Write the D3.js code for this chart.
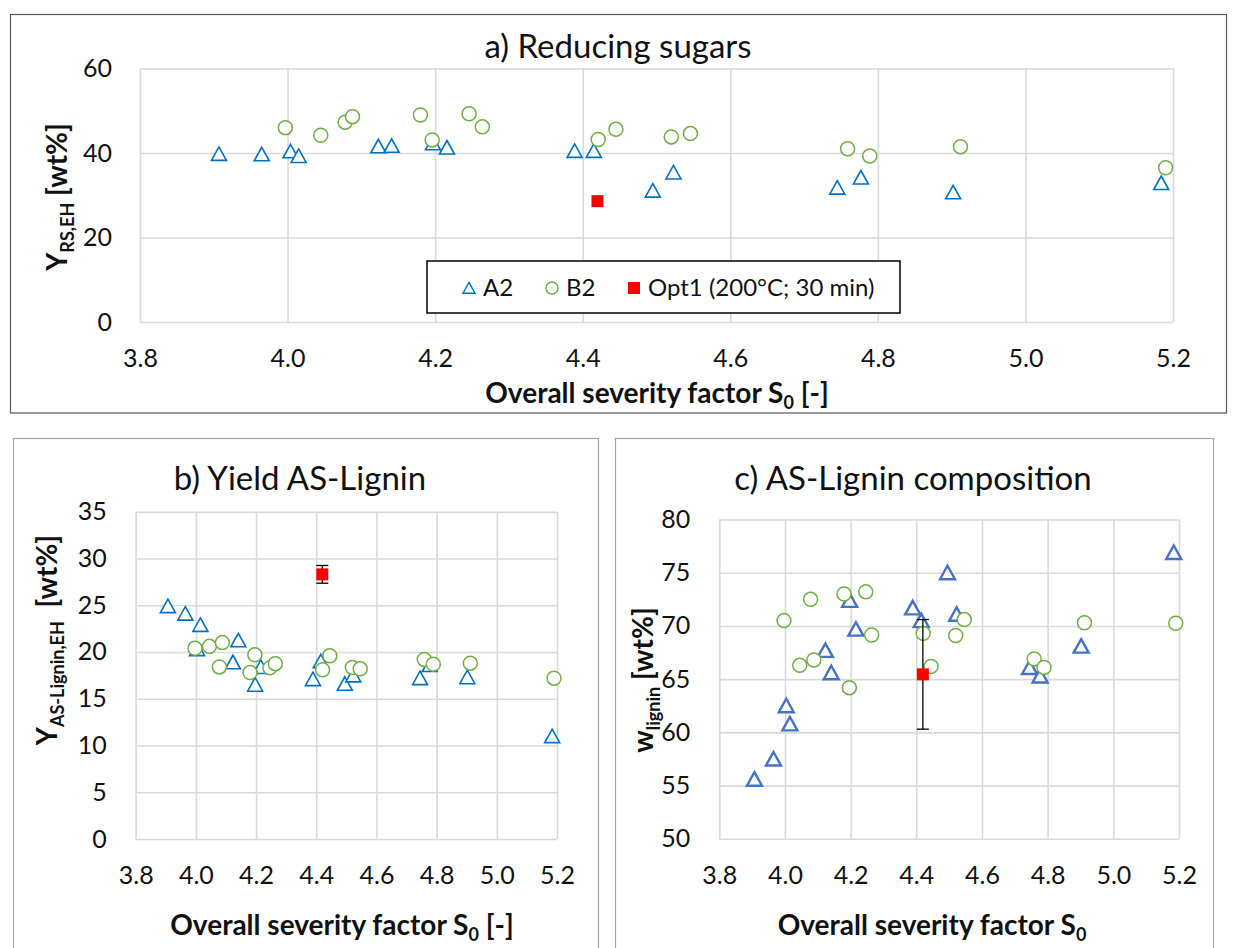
<!DOCTYPE html>
<html>
<head>
<meta charset="utf-8">
<script src="https://cdn.jsdelivr.net/npm/d3@7"></script>
<style>
  body { margin: 0; background: #fff; }
  text { font-family: Lato, "Open Sans", sans-serif; fill: #111; }
</style>
</head>
<body>
<script>
// severity factors S0 of the A2 and B2 runs (same runs in all three panels)
var sevA2 = [3.907, 3.965, 4.004, 4.015, 4.123, 4.141, 4.197, 4.216, 4.389, 4.415, 4.495, 4.523, 4.745, 4.777, 4.902, 5.184];
var sevB2 = [3.997, 4.045, 4.078, 4.088, 4.180, 4.196, 4.246, 4.264, 4.421, 4.445, 4.520, 4.546, 4.759, 4.789, 4.912, 5.190];

// a) reducing sugars [wt%]
var sugarsA2 = [39.8, 39.7, 40.4, 39.3, 41.6, 41.7, 42.3, 41.3, 40.5, 40.5, 31.1, 35.4, 31.8, 34.2, 30.7, 32.9];
var sugarsB2 = [46.0, 44.2, 47.3, 48.6, 49.0, 43.1, 49.3, 46.2, 43.2, 45.6, 43.8, 44.6, 41.0, 39.3, 41.5, 36.5];

// b) yield AS-lignin [wt%]
var yieldA2 = [24.9, 24.1, 20.3, 22.9, 18.9, 21.25, 16.5, 18.4, 17.1, 19.0, 16.6, 17.5, 17.2, 18.6, 17.3, 11.0];
var yieldB2 = [20.4, 20.6, 18.4, 21.0, 17.8, 19.7, 18.3, 18.75, 18.1, 19.6, 18.35, 18.2, 19.2, 18.7, 18.8, 17.2];

// c) lignin content of AS-lignin [wt%]
var wligA2 = [55.6, 57.5, 62.5, 60.8, 67.7, 65.6, 72.4, 69.7, 71.7, 70.5, 75.0, 71.1, 66.1, 65.3, 68.1, 76.9];
var wligB2 = [70.5, 66.3, 72.5, 66.8, 73.0, 64.2, 73.2, 69.15, 69.3, 66.2, 69.1, 70.6, 66.9, 66.1, 70.3, 70.25];

// Opt1 (200°C; 30 min)
var optSev = 4.42;
var optSugars = 28.6;
var optYield = 28.3, optYieldErr = 0.95;
var optWlig = 65.45, optWligErr = 5.15;

// ticks
var xTicks = [3.8, 4.0, 4.2, 4.4, 4.6, 4.8, 5.0, 5.2];
var yTicksA = [0, 20, 40, 60];
var yTicksB = [0, 5, 10, 15, 20, 25, 30, 35];
var yTicksC = [50, 55, 60, 65, 70, 75, 80];

var svg = d3.select("body").append("svg")
    .attr("width", 1237)
    .attr("height", 948);

svg.append("rect").attr("width", 1237).attr("height", 948).attr("fill", "#fff");

// panel frames
svg.append("rect").attr("x", 10.5).attr("y", 14.5).attr("width", 1216).attr("height", 398.5)
    .attr("fill", "none").attr("stroke", "#595959").attr("stroke-width", 1.2);
svg.append("rect").attr("x", 13.5).attr("y", 438.5).attr("width", 585).attr("height", 530)
    .attr("fill", "none").attr("stroke", "#a6a6a6").attr("stroke-width", 1.2);
svg.append("rect").attr("x", 615.5).attr("y", 438.5).attr("width", 598).attr("height", 530)
    .attr("fill", "none").attr("stroke", "#a6a6a6").attr("stroke-width", 1.2);

var triPath = "M0,-7L7.5,6.5L-7.5,6.5Z";

function zip(xs, ys) {
    return xs.map((d, i) => ({x: d, y: ys[i]}));
}

function drawPanel(p) {
    var x = d3.scaleLinear().domain([3.8, 5.2]).range([p.left, p.right]);
    var y = d3.scaleLinear().domain([p.yTicks[0], p.yTicks[p.yTicks.length - 1]]).range([p.bottom, p.top]);
    var g = svg.append("g");

    // vertical grid + x tick labels
    var xAxis = g.append("g")
        .attr("transform", `translate(0, ${p.bottom})`)
        .call(d3.axisBottom(x).tickValues(xTicks).tickFormat(d3.format(".1f"))
            .tickSize(-(p.bottom - p.top)).tickPadding(27));
    // horizontal grid + y tick labels
    var yAxis = g.append("g")
        .attr("transform", `translate(${p.left}, 0)`)
        .call(d3.axisLeft(y).tickValues(p.yTicks).tickFormat(d3.format("d"))
            .tickSize(-(p.right - p.left)).tickPadding(p.yPad));

    [xAxis, yAxis].forEach(function(a) {
        a.select(".domain").remove();
        a.selectAll(".tick line").attr("stroke", "#d9d9d9").attr("stroke-width", 1.6);
        a.selectAll(".tick text").attr("font-size", 25).attr("fill", "#111")
            .style("font-family", "Lato, sans-serif");
    });

    // A2 triangles
    g.selectAll(".a2").data(zip(sevA2, p.a2)).enter()
        .append("path")
        .attr("d", triPath)
        .attr("transform", d => `translate(${x(d.x)}, ${y(d.y)})`)
        .attr("fill", "#fff")
        .attr("stroke", p.triColor)
        .attr("stroke-width", p.triWidth);

    // B2 circles
    g.selectAll(".b2").data(zip(sevB2, p.b2)).enter()
        .append("circle")
        .attr("cx", d => x(d.x))
        .attr("cy", d => y(d.y))
        .attr("r", 7)
        .attr("fill", "#fff")
        .attr("stroke", "#70ad47")
        .attr("stroke-width", 1.5);

    // Opt1 point with error bar
    var ox = x(optSev);
    if (p.optErr) {
        var yt = y(p.opt + p.optErr), yb = y(p.opt - p.optErr);
        g.append("line").attr("x1", ox).attr("x2", ox).attr("y1", yt).attr("y2", yb)
            .attr("stroke", "#000").attr("stroke-width", 1.3);
        [yt, yb].forEach(function(v) {
            g.append("line").attr("x1", ox - 6).attr("x2", ox + 6).attr("y1", v).attr("y2", v)
                .attr("stroke", "#000").attr("stroke-width", 1.3);
        });
    }
    g.append("rect")
        .attr("x", ox - 6).attr("y", y(p.opt) - 6)
        .attr("width", 12).attr("height", 12)
        .attr("fill", "#ff0000");

    // title
    svg.append("text")
        .attr("x", p.titleX).attr("y", p.titleY)
        .attr("text-anchor", "middle")
        .attr("font-size", 33)
        .text(p.title);

    // x axis title
    var xt = svg.append("text")
        .attr("x", p.xTitleX).attr("y", p.xTitleY)
        .attr("text-anchor", "middle")
        .attr("font-size", 28)
        .attr("font-weight", "bold");
    xt.append("tspan").text("Overall severity factor S");
    xt.append("tspan").attr("font-size", 18).attr("dy", 6).text("0");
    if (p.xTitleUnit) xt.append("tspan").attr("dy", -6).text(" [-]");

    // y axis title (rotated, with subscript)
    var yt2 = svg.append("text")
        .attr("transform", `translate(${p.yTitleX}, ${p.yTitleY}) rotate(-90)`)
        .attr("text-anchor", "middle")
        .attr("font-size", 28)
        .attr("font-weight", "bold");
    yt2.append("tspan").text(p.yMain);
    yt2.append("tspan").attr("font-size", 18).attr("dy", 7).text(p.ySub);
    yt2.append("tspan").attr("dy", -7).text(p.yUnit);
}

drawPanel({
    left: 140, right: 1173, top: 68.5, bottom: 322,
    yTicks: yTicksA, yPad: 28,
    a2: sugarsA2, b2: sugarsB2, opt: optSugars, optErr: 0,
    triColor: "#0070c0", triWidth: 1.6,
    title: "a) Reducing sugars", titleX: 618, titleY: 58,
    xTitleX: 657, xTitleY: 403, xTitleUnit: true,
    yTitleX: 67, yTitleY: 197, yMain: "Y", ySub: "RS,EH", yUnit: " [wt%]"
});

drawPanel({
    left: 135.7, right: 557, top: 511.7, bottom: 839,
    yTicks: yTicksB, yPad: 29,
    a2: yieldA2, b2: yieldB2, opt: optYield, optErr: optYieldErr,
    triColor: "#0070c0", triWidth: 1.6,
    title: "b) Yield AS-Lignin", titleX: 300, titleY: 490,
    xTitleX: 342, xTitleY: 935, xTitleUnit: true,
    yTitleX: 57, yTitleY: 640, yMain: "Y", ySub: "AS-Lignin,EH", yUnit: "\u00a0\u00a0[wt%]"
});

drawPanel({
    left: 719.3, right: 1179, top: 519.5, bottom: 838.8,
    yTicks: yTicksC, yPad: 29,
    a2: wligA2, b2: wligB2, opt: optWlig, optErr: optWligErr,
    triColor: "#4472c4", triWidth: 2.4,
    title: "c) AS-Lignin composition", titleX: 913, titleY: 490,
    xTitleX: 932, xTitleY: 935, xTitleUnit: false,
    yTitleX: 653, yTitleY: 680, yMain: "w", ySub: "lignin", yUnit: " [wt%]"
});

// legend of panel a
var legend = svg.append("g");
legend.append("rect").attr("x", 427).attr("y", 261).attr("width", 473).attr("height", 52)
    .attr("fill", "#fff").attr("stroke", "#000").attr("stroke-width", 1.5);
var legendItems = [
    {label: "A2", x: 469, kind: "tri"},
    {label: "B2", x: 552, kind: "circ"},
    {label: "Opt1 (200°C; 30 min)", x: 634, kind: "sq"}
];
legendItems.forEach(function(it) {
    var cy = 288;
    if (it.kind === "tri") {
        legend.append("path").attr("d", triPath)
            .attr("transform", `translate(${it.x}, ${cy}) scale(0.8)`)
            .attr("fill", "#fff").attr("stroke", "#0070c0").attr("stroke-width", 1.8);
    } else if (it.kind === "circ") {
        legend.append("circle").attr("cx", it.x).attr("cy", cy).attr("r", 6)
            .attr("fill", "#fff").attr("stroke", "#70ad47").attr("stroke-width", 1.5);
    } else {
        legend.append("rect").attr("x", it.x - 6).attr("y", cy - 6).attr("width", 12).attr("height", 12)
            .attr("fill", "#ff0000");
    }
    legend.append("text").attr("x", it.x + 14).attr("y", cy + 8)
        .attr("font-size", 24).text(it.label);
});
</script>
</body>
</html>
